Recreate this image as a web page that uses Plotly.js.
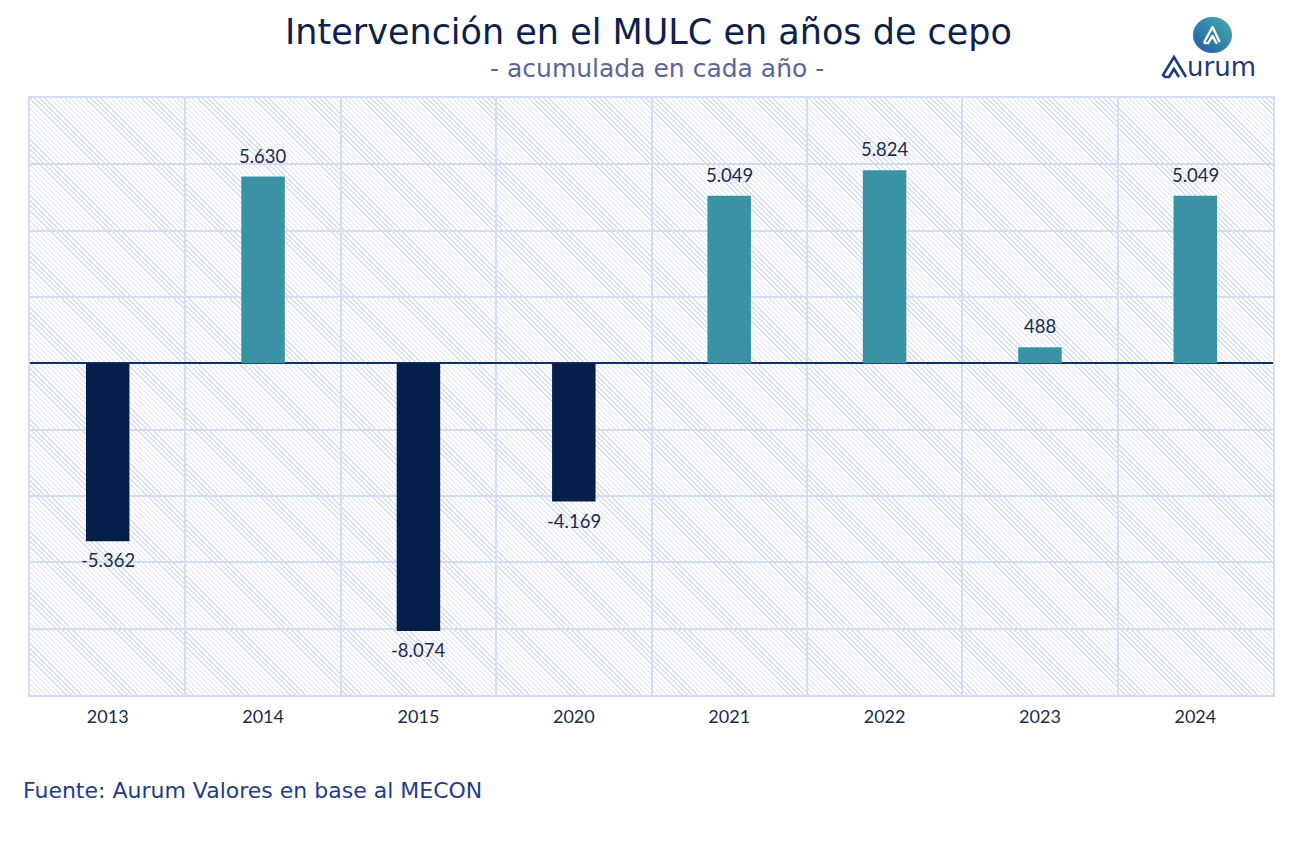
<!DOCTYPE html>
<html>
<head>
<meta charset="utf-8">
<script src="https://cdn.plot.ly/plotly-3.0.1.min.js"></script>
<style>
  html, body { margin: 0; padding: 0; background: #ffffff; }
  #wrap { position: relative; width: 1297px; height: 841px; }
  /* diagonal hatch behind the plotting area */
  #hatch {
    position: absolute; left: 30px; top: 98px; width: 1243px; height: 597px;
    background: repeating-linear-gradient(45deg, #d8dff0 0px, #d8dff0 1px, #ffffff 1px, #ffffff 3.6px);
  }
  #chart { position: absolute; left: 0; top: 0; width: 1297px; height: 841px; }
</style>
</head>
<body>
<div id="wrap">
  <div id="hatch"></div>
  <div id="chart"></div>
</div>
<script>
// Years and accumulated MULC intervention (USD millions)
const years = ['2013', '2014', '2015', '2020', '2021', '2022', '2023', '2024'];
const values = [-5362, 5630, -8074, -4169, 5049, 5824, 488, 5049];

const NAVY = '#061f4a';
const TEAL = '#3a93a4';
const GRID = '#d4def2';
const TEXT = '#1c2b4d';
const FONT = '"DejaVu Sans", "Noto Sans", sans-serif';
const NUMFONT = 'Lato, "Noto Sans", sans-serif';

// Spanish number style: dot as thousands separator
function fmt(v) {
  const s = Math.abs(v).toString().replace(/\B(?=(\d{3})+(?!\d))/g, '.');
  return (v < 0 ? '-' : '') + s;
}

// plotting-area pixel box, used to place the logo in paper coordinates
const PL = 30, PR = 1273, PT = 98, PB = 695;
const px = p => (p - PL) / (PR - PL);
const py = p => (PB - p) / (PB - PT);

const logoIcon = 'data:image/svg+xml;utf8,' + encodeURIComponent(
  '<svg xmlns="http://www.w3.org/2000/svg" width="40" height="40" viewBox="0 0 40 40">' +
  '<defs><linearGradient id="g" x1="1" y1="0" x2="0" y2="1">' +
  '<stop offset="0" stop-color="#45b0aa"/><stop offset="1" stop-color="#2457a8"/></linearGradient></defs>' +
  '<circle cx="20" cy="20" r="20" fill="url(#g)"/>' +
  '<path d="M27 27 L20 11 L12 27 Q11 29 13 29 L15.5 29 L20 21 L24 29" fill="none" stroke="#ffffff" ' +
  'stroke-width="2.4" stroke-linejoin="round" stroke-linecap="round"/>' +
  '</svg>');

const trace = {
  type: 'bar',
  x: years,
  y: values,
  marker: { color: values.map(v => v < 0 ? NAVY : TEAL) },
  hoverinfo: 'x+y'
};

// value labels above positive bars and below negative ones (x given as category index)
const valueLabels = years.map((yr, i) => ({
  text: fmt(values[i]),
  x: i, y: values[i], xref: 'x', yref: 'y',
  xanchor: 'center',
  yanchor: values[i] < 0 ? 'top' : 'bottom',
  yshift: values[i] < 0 ? -6 : 8,
  showarrow: false,
  font: { family: NUMFONT, size: 18.5, color: TEXT }
}));

const layout = {
  width: 1297,
  height: 841,
  margin: { l: PL, r: 1297 - PR, t: PT, b: 841 - PB },
  paper_bgcolor: 'rgba(0,0,0,0)',
  plot_bgcolor: 'rgba(0,0,0,0)',
  bargap: 0.72,
  showlegend: false,
  font: { family: FONT, color: TEXT },
  title: {
    text: 'Intervención en el MULC en años de cepo',
    font: { family: FONT, size: 35, color: '#0e2148' },
    x: 0.5, xref: 'container', xanchor: 'center',
    y: 1 - 32 / 841, yref: 'container', yanchor: 'middle'
  },
  xaxis: {
    type: 'category',
    categoryorder: 'array',
    categoryarray: years,
    tickson: 'boundaries',
    showgrid: true,
    gridcolor: GRID,
    gridwidth: 2,
    showline: true,
    mirror: true,
    linecolor: GRID,
    linewidth: 2,
    ticks: '',
    tickangle: 0,
    tickfont: { family: NUMFONT, size: 18, color: TEXT },
    ticklabelstandoff: 4
  },
  yaxis: {
    range: [-10000, 8000],
    dtick: 2000,
    showgrid: true,
    gridcolor: GRID,
    gridwidth: 2,
    showline: true,
    mirror: true,
    linecolor: GRID,
    linewidth: 2,
    showticklabels: false,
    ticks: '',
    zeroline: true,
    zerolinecolor: '#13306e',
    zerolinewidth: 2
  },
  annotations: valueLabels.concat([
    {
      text: '- acumulada en cada año -',
      xref: 'paper', yref: 'paper', x: px(657), y: py(68),
      xanchor: 'center', yanchor: 'middle', showarrow: false,
      font: { family: FONT, size: 25, color: '#5b6596' }
    },
    {
      text: 'Fuente: Aurum Valores en base al MECON',
      xref: 'paper', yref: 'paper', x: px(21), y: py(790),
      xanchor: 'left', yanchor: 'middle', showarrow: false,
      font: { family: FONT, size: 22, color: '#1f3c88' }
    },
    {
      text: 'urum',
      xref: 'paper', yref: 'paper', x: px(1185), y: py(67),
      xanchor: 'left', yanchor: 'middle', showarrow: false,
      font: { family: FONT, size: 26, color: '#1e3a7a' }
    }
  ]),
  shapes: [
    {
      // stylised "A" of the Aurum wordmark
      type: 'path', xref: 'paper', yref: 'paper',
      path: 'M ' + px(1186) + ',' + py(77) + ' L ' + px(1174) + ',' + py(57) +
            ' L ' + px(1163) + ',' + py(75) + ' L ' + px(1165) + ',' + py(77) +
            ' L ' + px(1169) + ',' + py(77) + ' L ' + px(1174) + ',' + py(69) +
            ' L ' + px(1179) + ',' + py(77),
      line: { color: '#1e3a7a', width: 2.6 }
    }
  ],
  images: [
    {
      source: logoIcon,
      xref: 'paper', yref: 'paper',
      x: px(1193), y: py(17), sizex: px(1232) - px(1193), sizey: py(17) - py(53),
      xanchor: 'left', yanchor: 'top', sizing: 'stretch', layer: 'above'
    }
  ]
};

Plotly.newPlot('chart', [trace], layout, { displayModeBar: false, staticPlot: true });
</script>
</body>
</html>
